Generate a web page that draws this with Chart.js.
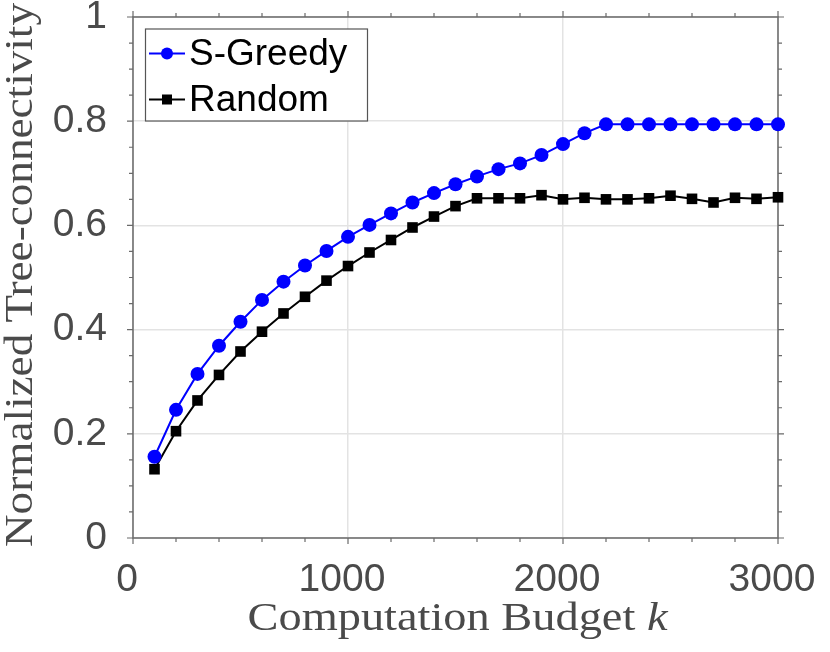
<!DOCTYPE html>
<html>
<head>
<meta charset="utf-8">
<script src="https://cdn.jsdelivr.net/npm/chart.js@4.4.0/dist/chart.umd.min.js"></script>
<style>
html,body{margin:0;padding:0;background:#fff;}
#wrap{width:830px;height:652px;position:relative;}
</style>
</head>
<body>
<div id="wrap"><canvas id="c" width="830" height="652"></canvas></div>
<script>
// ---- data ----
const budgets = [100,200,300,400,500,600,700,800,900,1000,1100,1200,1300,1400,1500,1600,1700,1800,1900,2000,2100,2200,2300,2400,2500,2600,2700,2800,2900,3000];
const sGreedy = [0.156,0.246,0.315,0.369,0.415,0.457,0.492,0.523,0.551,0.578,0.601,0.623,0.644,0.662,0.679,0.694,0.708,0.719,0.735,0.756,0.777,0.794,0.794,0.794,0.794,0.794,0.794,0.794,0.794,0.794];
const randomSel = [0.132,0.205,0.264,0.313,0.358,0.396,0.431,0.463,0.494,0.522,0.548,0.572,0.596,0.617,0.637,0.652,0.652,0.652,0.658,0.650,0.653,0.650,0.650,0.652,0.657,0.651,0.644,0.653,0.651,0.654];
const seriesLabels = ['S-Greedy','Random'];
const xTickValues = [0,1000,2000,3000];
const yTickValues = [0,0.2,0.4,0.6,0.8,1];
const xMinorStep = 200;
const yMinorStep = 0.05;
const xTitleText = 'Computation Budget ';
const xTitleVar = 'k';
const yTitleText = 'Normalized Tree-connectivity';

const AXIS_COLOR = '#6a6a6a';
const LABEL_COLOR = '#4a4a4a';
const SANS = '"Liberation Sans", Arial, Helvetica, sans-serif';
const SERIF = '"Liberation Serif", "Times New Roman", serif';

const frame = {
  id: 'frame',
  beforeDatasetsDraw(chart) {
    const {ctx, chartArea: a, scales: {x, y}} = chart;
    ctx.save();
    ctx.strokeStyle = AXIS_COLOR;
    ctx.lineWidth = 1.5;
    ctx.strokeRect(a.left, a.top, a.right - a.left, a.bottom - a.top);
    ctx.lineWidth = 1.2;
    ctx.beginPath();
    for (let v = x.min; v <= x.max + 1e-9; v += xMinorStep) {
      const major = xTickValues.some(t => Math.abs(t - v) < 1e-6);
      const len = major ? 6 : 4;
      const px = x.getPixelForValue(v);
      ctx.moveTo(px, a.bottom); ctx.lineTo(px, a.bottom + len);
      ctx.moveTo(px, a.top); ctx.lineTo(px, a.top - len);
    }
    for (let i = 0; i <= Math.round((y.max - y.min) / yMinorStep); i++) {
      const v = y.min + i * yMinorStep;
      const major = yTickValues.some(t => Math.abs(t - v) < 1e-6);
      const len = major ? 6 : 4;
      const py = y.getPixelForValue(v);
      ctx.moveTo(a.left, py); ctx.lineTo(a.left - len, py);
      ctx.moveTo(a.right, py); ctx.lineTo(a.right + len, py);
    }
    ctx.stroke();
    ctx.restore();
  },
  afterDraw(chart) {
    const {ctx, chartArea: a} = chart;
    ctx.save();
    const tFont = 39;
    ctx.fillStyle = LABEL_COLOR;
    ctx.textBaseline = 'alphabetic';
    // x title, stretched horizontally to the reference width
    ctx.font = tFont + 'px ' + SERIF;
    const w1 = ctx.measureText(xTitleText).width;
    ctx.font = 'italic ' + tFont + 'px ' + SERIF;
    const w2 = ctx.measureText(xTitleVar).width;
    const xTarget = 420;
    const kx = xTarget / (w1 + w2);
    const cx = (a.left + a.right) / 2 + 2;
    ctx.save();
    ctx.translate(cx - xTarget / 2, 630);
    ctx.scale(kx, 1);
    ctx.textAlign = 'left';
    ctx.font = tFont + 'px ' + SERIF;
    ctx.fillText(xTitleText, 0, 0);
    ctx.font = 'italic ' + tFont + 'px ' + SERIF;
    ctx.fillText(xTitleVar, w1, 0);
    ctx.restore();
    // y title
    ctx.save();
    ctx.font = tFont + 'px ' + SERIF;
    const wy = ctx.measureText(yTitleText).width;
    const ky = 544 / wy;
    ctx.translate(32, 275);
    ctx.rotate(-Math.PI / 2);
    ctx.scale(ky, 1);
    ctx.textAlign = 'center';
    ctx.fillText(yTitleText, 0, 0);
    ctx.restore();
    // legend
    const L = 145.5, T = 29, R = 367.5, B = 121;
    ctx.fillStyle = '#ffffff';
    ctx.fillRect(L, T, R - L, B - T);
    ctx.strokeStyle = '#555555';
    ctx.lineWidth = 1.2;
    ctx.strokeRect(L, T, R - L, B - T);
    const rows = [53.5, 99.5];
    chart.data.datasets.forEach((ds, i) => {
      const yy = rows[i];
      ctx.strokeStyle = ds.borderColor;
      ctx.lineWidth = 2;
      ctx.beginPath(); ctx.moveTo(149, yy); ctx.lineTo(185, yy); ctx.stroke();
      ctx.fillStyle = ds.borderColor;
      if (ds.pointStyle === 'circle') {
        ctx.beginPath(); ctx.arc(167, yy, 6, 0, Math.PI * 2); ctx.fill();
      } else {
        ctx.fillRect(167 - 5, yy - 5, 10, 10);
      }
      ctx.fillStyle = '#000000';
      ctx.font = '37px ' + SANS;
      ctx.textAlign = 'left';
      ctx.textBaseline = 'middle';
      ctx.fillText(ds.label, 189, yy + 1);
    });
    ctx.restore();
  }
};

new Chart(document.getElementById('c'), {
  type: 'line',
  data: {
    datasets: [
      {
        label: seriesLabels[0],
        data: budgets.map((b, i) => ({x: b, y: sGreedy[i]})),
        borderColor: '#0000ff',
        backgroundColor: '#0000ff',
        borderWidth: 2,
        pointStyle: 'circle',
        pointRadius: 7,
        pointBorderWidth: 0,
        pointBackgroundColor: '#0000ff',
        tension: 0,
        clip: false
      },
      {
        label: seriesLabels[1],
        data: budgets.map((b, i) => ({x: b, y: randomSel[i]})),
        borderColor: '#000000',
        backgroundColor: '#000000',
        borderWidth: 2,
        pointStyle: 'rect',
        pointRadius: 7.5,
        pointBorderWidth: 0,
        pointBackgroundColor: '#000000',
        tension: 0,
        clip: false
      }
    ]
  },
  options: {
    responsive: false,
    animation: false,
    devicePixelRatio: 1,
    layout: {padding: {left: 0, top: 17, right: 52, bottom: 0}},
    plugins: {legend: {display: false}, tooltip: {enabled: false}, title: {display: false}},
    scales: {
      x: {
        type: 'linear', min: 0, max: 3000,
        afterBuildTicks: s => { s.ticks = xTickValues.map(v => ({value: v})); },
        afterFit: s => { s.height = 114; s.paddingLeft = 0; s.paddingRight = 0; },
        ticks: {
          callback: v => String(v),
          font: {family: SANS, size: 39},
          color: LABEL_COLOR,
          padding: 19,
          labelOffset: -6,
          maxRotation: 0,
          autoSkip: false
        },
        grid: {color: '#e3e3e3', lineWidth: 1.5, drawTicks: false},
        border: {display: false}
      },
      y: {
        type: 'linear', min: 0, max: 1,
        afterBuildTicks: s => { s.ticks = yTickValues.map(v => ({value: v})); },
        afterFit: s => { s.width = 133; s.paddingTop = 0; s.paddingBottom = 0; },
        ticks: {
          callback: v => String(+Number(v).toFixed(2)),
          font: {family: SANS, size: 39},
          color: LABEL_COLOR,
          padding: 26,
          autoSkip: false
        },
        grid: {color: '#e3e3e3', lineWidth: 1.5, drawTicks: false},
        border: {display: false}
      }
    }
  },
  plugins: [frame]
});
</script>
</body>
</html>
